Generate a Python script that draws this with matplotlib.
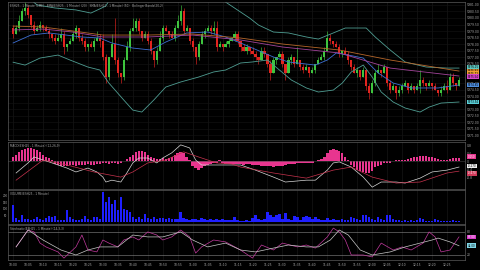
import matplotlib
matplotlib.use("Agg")
import matplotlib.pyplot as plt
import numpy as np

# ---- price bars (1 minute) ----
first_open = 5979.25
closes = [5978.75, 5979.25, 5979.75, 5980.50, 5980.75, 5980.25, 5979.50, 5979.00, 5979.25, 5979.50,
          5979.25, 5979.00, 5978.75, 5978.50, 5978.25, 5978.50, 5978.75, 5977.75, 5978.00, 5978.25,
          5978.75, 5979.25, 5978.50, 5978.25, 5977.75, 5978.00, 5977.75, 5978.25, 5978.50, 5978.25,
          5977.00, 5975.50, 5977.00, 5978.00, 5976.75, 5975.75, 5975.50, 5976.75, 5977.75, 5979.00,
          5979.25, 5979.75, 5979.00, 5978.50, 5978.75, 5978.25, 5977.50, 5976.75, 5977.50, 5978.50,
          5979.25, 5979.00, 5978.75, 5978.50, 5979.25, 5979.75, 5980.50, 5979.00, 5979.25, 5978.25,
          5977.75, 5977.00, 5978.00, 5978.75, 5979.00, 5979.25, 5979.00, 5979.25, 5977.75, 5978.00,
          5977.75, 5978.00, 5978.25, 5978.50, 5978.75, 5978.25, 5977.75, 5977.50, 5977.75, 5977.50,
          5977.25, 5977.00, 5976.75, 5977.50, 5977.25, 5976.50, 5975.75, 5976.75, 5977.00, 5977.25,
          5976.50, 5975.75, 5976.75, 5977.00, 5976.50, 5976.75, 5976.25, 5976.00, 5976.25, 5975.75,
          5976.00, 5976.50, 5976.75, 5977.00, 5977.50, 5978.50, 5978.25, 5978.00, 5977.75, 5977.25,
          5977.50, 5977.25, 5976.75, 5976.25, 5975.75, 5976.00, 5975.50, 5976.00, 5974.75, 5974.25,
          5975.00, 5975.75, 5976.00, 5975.75, 5976.25, 5975.00, 5974.50, 5974.75, 5974.25, 5974.50,
          5974.75, 5975.00, 5974.50, 5974.75, 5974.50, 5974.75, 5975.25, 5975.00, 5974.75, 5975.00,
          5974.75, 5974.50, 5974.25, 5974.50, 5974.75, 5974.50, 5975.50, 5975.00, 5974.75, 5975.25]
# wick sizes in ticks (0.25) above / below the body
wick_hi = [1, 1, 2, 1, 2, 1, 0, 1, 1, 1, 0, 1, 1, 0, 1, 1, 2, 1, 0, 1,
           1, 1, 0, 1, 1, 0, 1, 1, 2, 1, 2, 1, 0, 3, 8, 1, 0, 1, 2, 1,
           3, 1, 1, 0, 1, 1, 1, 0, 1, 2, 1, 1, 0, 1, 1, 2, 2, 1, 1, 0,
           1, 0, 1, 1, 1, 1, 1, 2, 2, 1, 0, 1, 1, 0, 1, 1, 0, 1, 1, 0,
           1, 1, 0, 1, 1, 0, 1, 1, 0, 1, 1, 0, 1, 1, 0, 4, 0, 1, 1, 0,
           1, 0, 1, 1, 1, 2, 1, 0, 1, 1, 0, 1, 1, 0, 1, 1, 0, 1, 0, 1,
           1, 1, 2, 0, 1, 0, 1, 1, 0, 1, 1, 1, 0, 1, 0, 1, 3, 1, 0, 1,
           0, 1, 0, 1, 1, 2, 1, 1, 0, 1]
wick_lo = [1, 0, 1, 0, 1, 1, 1, 1, 0, 1, 1, 0, 1, 1, 1, 0, 1, 2, 1, 0,
           0, 1, 1, 1, 1, 1, 0, 1, 0, 2, 1, 2, 1, 0, 1, 1, 2, 1, 0, 1,
           0, 1, 1, 1, 0, 1, 1, 2, 1, 0, 1, 0, 1, 0, 1, 0, 1, 1, 0, 1,
           1, 2, 1, 0, 1, 0, 1, 1, 1, 0, 1, 0, 1, 0, 1, 1, 1, 0, 1, 1,
           0, 1, 1, 0, 1, 1, 2, 0, 1, 0, 1, 2, 0, 1, 1, 0, 1, 1, 0, 1,
           0, 1, 0, 0, 1, 0, 1, 1, 0, 1, 1, 0, 1, 1, 0, 1, 1, 0, 1, 2,
           0, 1, 0, 1, 0, 1, 1, 0, 2, 1, 1, 0, 1, 0, 1, 0, 2, 1, 1, 0,
           1, 0, 1, 1, 0, 1, 0, 1, 1, 0]

# ---- overlays (bar index, value) ----
bb_upper_x = [0, 4, 8, 14, 21, 26, 31, 34, 39, 52, 62, 70, 76, 79, 82, 87, 92, 98, 102, 107, 111, 118, 121, 126, 131, 138, 145, 149]
bb_upper = [5983.3, 5981.8, 5981.0, 5980.77, 5980.62, 5980.38, 5980.92, 5982.15, 5983.7, 5984.5, 5983.3, 5981.38, 5980.46, 5980.0,
            5979.46, 5978.92, 5978.85, 5978.54, 5978.38, 5978.85, 5979.23, 5979.23, 5978.54, 5977.54, 5976.62, 5976.23, 5976.15, 5976.15]
bb_lower_x = [0, 4, 9, 15, 19, 25, 29, 32, 37, 40, 43, 47, 51, 56, 62, 67, 71, 76, 80, 85, 89, 93, 98, 102, 107, 110, 113, 117,
              120, 123, 127, 131, 136, 139, 143, 149]
bb_lower = [5976.6, 5976.38, 5976.92, 5977.15, 5976.77, 5976.23, 5976.0, 5975.0, 5973.69, 5972.92, 5972.77, 5973.69, 5974.69,
            5975.08, 5975.46, 5975.85, 5976.0, 5976.54, 5976.62, 5976.77, 5976.0, 5975.23, 5974.62, 5974.31, 5974.46, 5975.0,
            5975.85, 5976.38, 5975.46, 5974.31, 5973.54, 5973.08, 5972.77, 5973.15, 5973.46, 5973.54]
ma_fast_x = [0, 6, 12, 23, 29, 33, 40, 46, 51, 58, 65, 71, 76, 87, 92, 101, 105, 108, 112, 117, 122, 127, 133, 142, 149]
ma_fast = [5978.08, 5978.69, 5978.85, 5978.54, 5978.46, 5978.08, 5977.69, 5977.54, 5978.15, 5978.85, 5978.92, 5978.54, 5978.08,
           5977.0, 5976.62, 5976.38, 5976.77, 5977.31, 5977.15, 5976.92, 5975.77, 5975.0, 5974.62, 5974.62, 5974.85]
ma_mid_x = [0, 10, 20, 30, 45, 60, 76, 90, 109, 126, 149]
ma_mid = [5979.08, 5979.15, 5978.92, 5978.54, 5978.54, 5978.69, 5978.31, 5977.77, 5977.31, 5976.15, 5975.54]
ma_slow_x = [0, 10, 20, 30, 45, 60, 76, 90, 109, 126, 149]
ma_slow = [5979.38, 5979.31, 5979.0, 5978.69, 5978.69, 5978.77, 5978.46, 5978.0, 5977.54, 5976.77, 5975.92]

# ---- MACD ----
macd_hist = [0.24, 0.34, 0.44, 0.54, 0.63, 0.68, 0.68, 0.63, 0.54, 0.44,
             0.34, 0.24, 0.15, 0.05, -0.10, -0.15, -0.20, -0.20, -0.20, -0.15,
             -0.15, -0.20, -0.15, -0.15, -0.15, -0.10, -0.15, -0.15, -0.10, -0.10,
             -0.05, -0.05, -0.10, -0.05, -0.05, -0.10, -0.05, 0.02, 0.10, 0.20,
             0.34, 0.44, 0.49, 0.49, 0.44, 0.34, 0.24, 0.15, 0.10, 0.10,
             0.15, 0.10, 0.15, 0.24, 0.34, 0.39, 0.44, 0.39, 0.24, 0.05,
             -0.20, -0.34, -0.39, -0.34, -0.24, -0.15, -0.10, -0.05, -0.05, 0.05,
             -0.05, -0.10, -0.10, -0.10, -0.10, -0.10, -0.10, -0.15, -0.10, -0.10,
             -0.15, -0.15, -0.15, -0.20, -0.20, -0.24, -0.24, -0.29, -0.24, -0.24,
             -0.20, -0.15, -0.10, -0.10, -0.10, -0.05, -0.05, -0.05, -0.05, -0.05,
             -0.05, 0.02, 0.05, 0.10, 0.20, 0.39, 0.54, 0.59, 0.54, 0.49,
             0.39, 0.24, 0.05, -0.15, -0.29, -0.39, -0.44, -0.49, -0.54, -0.54,
             -0.44, -0.29, -0.20, -0.15, -0.05, -0.05, -0.05, 0.02, 0.05, 0.05,
             0.05, 0.05, 0.10, 0.15, 0.20, 0.24, 0.29, 0.29, 0.29, 0.24,
             0.20, 0.15, 0.10, 0.05, 0.05, 0.05, 0.10, 0.15, 0.15, 0.15]
macd_x = [1, 5, 7, 12, 18, 21, 25, 28, 30, 31, 33, 36, 38, 40, 42, 45, 48, 50, 53, 56, 59, 61, 63, 68, 73, 76, 81, 87, 91,
          98, 101, 105, 107, 109, 113, 117, 120, 123, 128, 131, 136, 140, 145, 149]
macd_line = [-0.56, -0.07, 0.22, -0.02, -0.32, -0.51, -0.32, -0.51, -0.76, -1.0, -0.91, -1.0, -0.56, -0.07, 0.17, 0.17, -0.07,
             0.17, 0.42, 0.81, 0.66, 0.07, -0.17, -0.17, -0.17, -0.17, -0.42, -0.76, -1.0, -0.91, -0.91, -0.42, -0.07, -0.02,
             -0.27, -0.76, -1.25, -1.0, -1.0, -1.05, -0.81, -0.51, -0.42, -0.27]
signal_x = [1, 10, 18, 27, 36, 40, 45, 51, 57, 62, 68, 73, 76, 87, 98, 107, 113, 120, 128, 136, 145, 149]
signal_line = [-0.91, 0.07, -0.17, -0.51, -0.76, -0.51, -0.07, 0.07, 0.47, 0.22, -0.07, -0.12, -0.27, -0.56, -0.81, -0.42,
               -0.27, -0.76, -1.05, -1.0, -0.56, -0.47]

# ---- volume ----
volume = [128, 30, 15, 52, 22, 22, 15, 22, 38, 22, 15, 30, 45, 38, 45, 15, 15, 15, 90, 38,
          22, 15, 15, 22, 45, 22, 15, 38, 38, 22, 225, 150, 188, 135, 165, 90, 188, 98, 90, 75,
          38, 22, 38, 22, 60, 30, 22, 38, 22, 30, 30, 22, 30, 22, 22, 22, 75, 30, 22, 15,
          22, 22, 15, 30, 22, 15, 22, 15, 22, 15, 22, 15, 15, 15, 38, 15, 8, 8, 15, 8,
          30, 52, 22, 15, 22, 75, 52, 38, 52, 60, 22, 68, 22, 15, 45, 38, 15, 38, 45, 38,
          22, 38, 22, 15, 15, 30, 15, 22, 15, 15, 22, 15, 15, 38, 30, 22, 15, 52, 52, 38,
          22, 15, 38, 22, 15, 52, 52, 22, 15, 15, 8, 15, 8, 15, 8, 15, 30, 22, 8, 8,
          8, 22, 15, 8, 8, 8, 8, 15, 8, 8]

# ---- stochastic ----
stoch_k_x = [1, 5, 7, 9, 11, 15, 17, 21, 23, 25, 28, 30, 32, 35, 37, 40, 42, 45, 48, 50, 53, 56, 59, 61, 63, 67, 71, 76,
             80, 83, 87, 90, 95, 98, 101, 105, 107, 109, 111, 113, 117, 120, 123, 127, 130, 133, 137, 139, 141, 143, 146, 149]
stoch_k = [41, 85, 80, 51, 41, 28, 12, 41, 72, 33, 28, 59, 51, 41, 59, 67, 59, 80, 72, 59, 67, 85, 67, 25, 41, 59, 54, 33,
           12, 46, 33, 51, 41, 46, 38, 67, 90, 80, 59, 20, 20, 15, 51, 33, 41, 33, 51, 80, 67, 28, 33, 67]
stoch_d_x = [1, 5, 10, 16, 21, 25, 29, 35, 40, 45, 50, 56, 60, 65, 71, 76, 81, 87, 92, 98, 102, 106, 109, 112, 116, 120,
             126, 131, 136, 140, 142, 146, 149]
stoch_d = [41, 85, 59, 33, 20, 33, 41, 41, 72, 67, 67, 80, 59, 41, 51, 33, 28, 38, 46, 41, 41, 59, 85, 72, 33, 20, 28, 41,
           51, 59, 64, 54, 44]

time_labels = ["10:00", "10:05", "10:10", "10:15", "10:20", "10:25", "10:30", "10:35", "10:40", "10:45",
               "10:50", "10:55", "11:00", "11:05", "11:10", "11:15", "11:20", "11:25", "11:30", "11:35",
               "11:40", "11:45", "11:50", "11:55", "12:00", "12:05", "12:10", "12:15", "12:20", "12:25"]

BG = "black"
GRID = "#1c1c1c"
TXT = "#a8a8a8"
FS = 2.2

n = len(closes)
idx = np.arange(n)
opens = [first_open] + closes[:-1]
highs = [max(o, c) + h * 0.25 for o, c, h in zip(opens, closes, wick_hi)]
lows = [min(o, c) - l * 0.25 for o, c, l in zip(opens, closes, wick_lo)]
cols = ["#3ec43e" if c >= o else "#e2241f" for o, c in zip(opens, closes)]

fig = plt.figure(figsize=(4.8, 2.7), dpi=100, facecolor=BG)
L, W = 8 / 480, 457 / 480


def panel(top, bottom):
    ax = fig.add_axes([L, 1 - bottom / 270, W, (bottom - top) / 270])
    ax.set_facecolor(BG)
    for s in ax.spines.values():
        s.set_color("#5a5a5a")
        s.set_linewidth(0.5)
    ax.set_xlim(-1.7, 151)
    ax.set_xticks(np.arange(0, n, 5))
    ax.tick_params(colors=TXT, labelsize=FS, length=0, pad=1.2)
    ax.yaxis.tick_right()
    ax.grid(axis="x", color=GRID, lw=0.4)
    ax.set_axisbelow(True)
    return ax


def tag(ax, y, text, fc, tc="black"):
    ax.text(1.006, y, text, transform=ax.get_yaxis_transform(), fontsize=2.0, color=tc, va="center", ha="left",
            bbox=dict(boxstyle="square,pad=0.15", fc=fc, ec="none"))


# price
ax1 = panel(2, 140)
ax1.set_ylim(5970.62, 5981.23)
ax1.set_yticks(np.arange(5971, 5981.01, 0.5))
ax1.set_yticklabels([f"{v:.2f}" for v in np.arange(5971, 5981.01, 0.5)])
ax1.grid(axis="y", color="#141414", lw=0.4)
ax1.set_xticklabels([])
ax1.vlines(idx, lows, highs, colors=cols, lw=0.45)
ax1.bar(idx, [max(abs(c - o), 0.05) for o, c in zip(opens, closes)], bottom=[min(o, c) for o, c in zip(opens, closes)],
        width=0.72, color=cols, linewidth=0)
ax1.plot(bb_upper_x, bb_upper, color="#4f9d92", lw=0.6)
ax1.plot(bb_lower_x, bb_lower, color="#4f9d92", lw=0.6)
ax1.plot(ma_fast_x, ma_fast, color="#3d6fd4", lw=0.6)
ax1.plot(ma_mid_x, ma_mid, color="#a2449a", lw=0.6)
ax1.plot(ma_slow_x, ma_slow, color="#b5662a", lw=0.6)
ax1.text(0.005, 0.985, "ESH25 - 1 Minute (CME)   EMA(ESH25 - 1 Minute) (20)   SMA(ESH25 - 1 Minute) (50)   Bollinger Bands(20,2)",
         transform=ax1.transAxes, fontsize=2.1, color=TXT, va="top")
tag(ax1, bb_upper[-1] + 0.08, f"{bb_upper[-1]:.2f}", "#5cc7c0")
tag(ax1, ma_slow[-1], f"{ma_slow[-1]:.2f}", "#e08a2a")
tag(ax1, ma_slow[-1] - 0.2, f"{ma_slow[-1] - 0.2:.2f}", "#f0a030")
tag(ax1, ma_mid[-1] - 0.05, f"{ma_mid[-1]:.2f}", "#d646c8")
tag(ax1, ma_fast[-1], f"{ma_fast[-1]:.2f}", "#4f8fe0")
tag(ax1, bb_lower[-1], f"{bb_lower[-1]:.2f}", "#5ad0d8")

# MACD
ax2 = panel(142, 189)
ax2.set_ylim(-1.34, 0.95)
ax2.set_yticks([-0.8, -0.4, 0, 0.4, 0.8])
ax2.set_yticklabels(["-0.8", "-0.4", "0", "0.4", "0.8"])
ax2.set_xticklabels([])
ax2.axhline(0, color="#444444", lw=0.4)
ax2.bar(idx, macd_hist, width=0.8, color="#e8358f", linewidth=0)
ax2.plot(macd_x, macd_line, color="#d8d8d8", lw=0.5)
ax2.plot(signal_x, signal_line, color="#c8334e", lw=0.5)
ax2.text(0.005, 0.96, "MACD(ESH25 - 1 Minute) (12,26,9)", transform=ax2.transAxes, fontsize=2.1, color=TXT, va="top")
tag(ax2, macd_hist[-1] + 0.08, f"{macd_hist[-1]:.3f}", "#e8358f", "white")
tag(ax2, macd_line[-1] + 0.05, f"{macd_line[-1]:.3f}", "#eeeeee")
tag(ax2, signal_line[-1] - 0.1, f"{signal_line[-1]:.3f}", "#d03a5a", "white")

# volume
ax3 = panel(190, 224)
ax3.set_ylim(-15, 240)
ax3.yaxis.tick_left()
ax3.set_yticks([50, 100, 150, 200])
ax3.set_xticklabels([])
ax3.tick_params(axis="y", pad=0.5, labelsize=2.0)
ax3.bar(idx, volume, width=0.8, color="#1f1fff", linewidth=0)
ax3.text(0.005, 0.95, "VOLUME(ESH25 - 1 Minute)", transform=ax3.transAxes, fontsize=2.1, color=TXT, va="top")

# stochastic
ax4 = panel(225, 260)
ax4.set_ylim(7, 98)
ax4.set_yticks([20, 80])
ax4.axhline(80, color="#8a8a8a", lw=0.4)
ax4.axhline(20, color="#8a8a8a", lw=0.4)
ax4.plot(stoch_k_x, stoch_k, color="#c23a9e", lw=0.5)
ax4.plot(stoch_d_x, stoch_d, color="#c8c8c8", lw=0.5)
ax4.set_xticklabels(time_labels)
ax4.tick_params(axis="x", pad=2)
ax4.text(0.005, 0.95, "Stochastic(ESH25 - 1 Minute) (14,3,3)", transform=ax4.transAxes, fontsize=2.1, color=TXT, va="top")
tag(ax4, stoch_k[-1], f"{stoch_k[-1]:.2f}", "#d83ac8", "white")
tag(ax4, stoch_d[-1], f"{stoch_d[-1]:.2f}", "#7fd6e6")

fig.savefig("out.png", dpi=100, facecolor=BG)
